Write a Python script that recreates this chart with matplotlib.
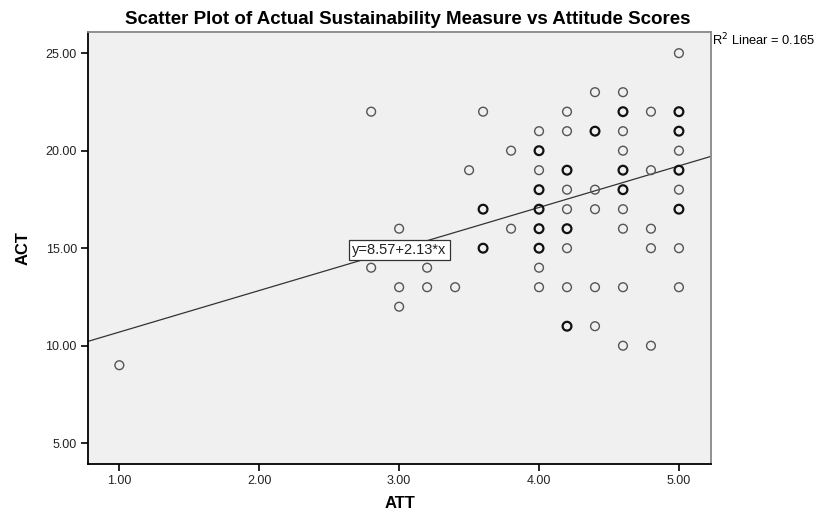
import matplotlib
matplotlib.use("Agg")
import matplotlib.pyplot as plt
import numpy as np

plt.rcParams['font.family'] = ['Liberation Sans', 'DejaVu Sans']

# Data: ATT (x), ACT (y), number of overlapping cases (n)
att = [1.0, 2.8, 2.8, 3.0, 3.0, 3.0, 3.2, 3.2, 3.4, 3.5, 3.6, 3.6, 3.6, 3.8, 3.8,
       4.0, 4.0, 4.0, 4.0, 4.0, 4.0, 4.0, 4.0, 4.0,
       4.2, 4.2, 4.2, 4.2, 4.2, 4.2, 4.2, 4.2, 4.2,
       4.4, 4.4, 4.4, 4.4, 4.4, 4.4,
       4.6, 4.6, 4.6, 4.6, 4.6, 4.6, 4.6, 4.6, 4.6, 4.6,
       4.8, 4.8, 4.8, 4.8, 4.8,
       5.0, 5.0, 5.0, 5.0, 5.0, 5.0, 5.0, 5.0, 5.0]
act = [9, 22, 14, 16, 13, 12, 14, 13, 13, 19, 22, 17, 15, 20, 16,
       21, 20, 19, 18, 17, 16, 15, 14, 13,
       22, 21, 19, 18, 17, 16, 15, 13, 11,
       23, 21, 18, 17, 13, 11,
       23, 22, 21, 20, 19, 18, 17, 16, 13, 10,
       22, 19, 16, 15, 10,
       25, 22, 21, 20, 19, 18, 17, 15, 13]
count = [1, 1, 1, 1, 1, 1, 1, 1, 1, 1, 1, 2, 2, 1, 1,
         1, 2, 1, 2, 2, 2, 2, 1, 1,
         1, 1, 2, 1, 1, 2, 1, 1, 2,
         1, 2, 1, 1, 1, 1,
         1, 2, 1, 1, 2, 2, 1, 1, 1, 1,
         1, 1, 1, 1, 1,
         1, 2, 2, 1, 2, 1, 2, 1, 1]

intercept, slope = 8.57, 2.13
r2 = 0.165

x_ticks = [1.0, 2.0, 3.0, 4.0, 5.0]
y_ticks = [5.0, 10.0, 15.0, 20.0, 25.0]

fig = plt.figure(figsize=(8.27, 5.14), dpi=100)
ax = fig.add_axes([0.1064, 0.0967, 0.7533, 0.8416])
ax.set_facecolor('#F0F0F0')

att_a = np.array(att)
act_a = np.array(act)
cnt_a = np.array(count)
single = cnt_a == 1
multi = cnt_a > 1
ax.scatter(att_a[single], act_a[single], s=40, facecolors='none',
           edgecolors='#555555', linewidths=1.0, zorder=3)
ax.scatter(att_a[multi], act_a[multi], s=40, facecolors='none',
           edgecolors='#111111', linewidths=1.6, zorder=3)

xmin, xmax = 0.776, 5.229
ymin, ymax = 3.92, 26.1
xs = np.array([xmin, xmax])
ax.plot(xs, intercept + slope * xs, color='#333333', lw=0.9, zorder=2)

ax.set_xlim(xmin, xmax)
ax.set_ylim(ymin, ymax)
ax.set_xticks(x_ticks)
ax.set_yticks(y_ticks)
ax.set_xticklabels([f"{v:.2f}" for v in x_ticks])
ax.set_yticklabels([f"{v:.2f}" for v in y_ticks])
ax.tick_params(direction='out', length=5, width=1.2, labelsize=9, color='black',
               labelcolor='#222222', pad=3)

for s in ['left', 'bottom']:
    ax.spines[s].set_color('black')
    ax.spines[s].set_linewidth(1.3)
for s in ['right', 'top']:
    ax.spines[s].set_color('#888888')
    ax.spines[s].set_linewidth(1.3)

ax.set_xlabel('ATT', fontsize=12, fontweight='bold', labelpad=6)
ax.set_ylabel('ACT', fontsize=12, fontweight='bold', labelpad=11)

ax.text(3.0, 14.9, 'y=8.57+2.13*x', fontsize=10.5, ha='center', va='center',
        color='#222222', zorder=4,
        bbox=dict(boxstyle='square,pad=0.22', facecolor='white', edgecolor='#333333', lw=0.9))

fig.text(0.4925, 0.963, 'Scatter Plot of Actual Sustainability Measure vs Attitude Scores',
         ha='center', va='center', fontsize=13.5, fontweight='bold')
fig.text(0.861, 0.922, r'R$^2$ Linear = 0.165', ha='left', va='center', fontsize=9.3)

fig.savefig('out.png', dpi=100, facecolor='white')
